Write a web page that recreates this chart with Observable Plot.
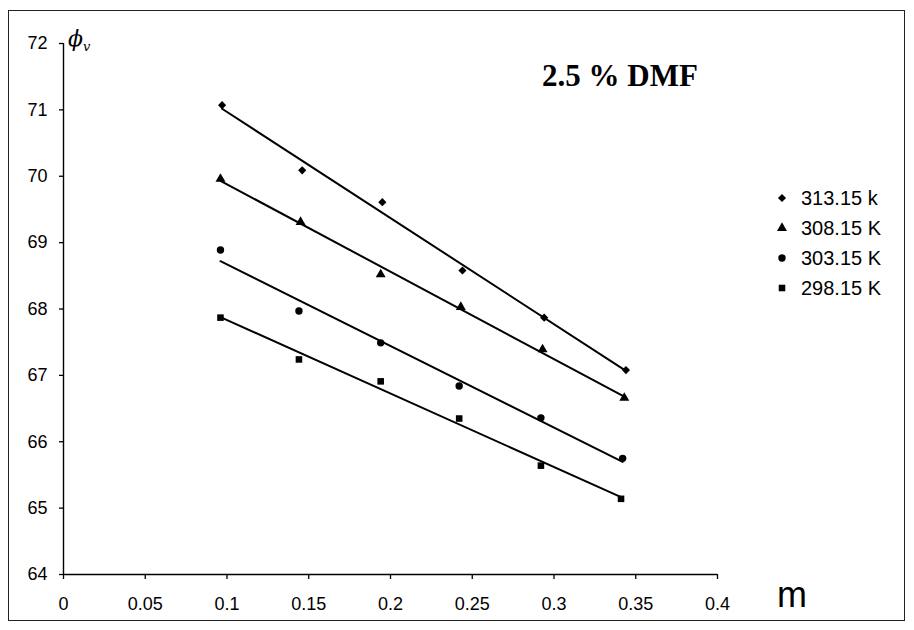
<!DOCTYPE html>
<html><head><meta charset="utf-8">
<script src="https://cdn.jsdelivr.net/npm/d3@7"></script>
<script src="https://cdn.jsdelivr.net/npm/@observablehq/plot@0.6"></script>
<style>
body{margin:0;background:#fff;}
#wrap{position:relative;width:914px;height:630px;font-family:"Liberation Sans",Arial,sans-serif;overflow:hidden;}
#frame{position:absolute;left:8px;top:10px;width:897px;height:611px;border:1.5px solid #222;box-sizing:border-box;pointer-events:none;}
#chart{position:absolute;left:0;top:0;}
.ann{position:absolute;white-space:nowrap;color:#000;}
#title{left:542px;top:58px;font-family:"Liberation Serif","Times New Roman",serif;font-weight:bold;font-size:31px;}
#mlab{left:777px;top:574px;font-size:36px;}
#phi{left:68px;top:26px;font-family:"DejaVu Serif",serif;font-style:italic;font-size:22px;}
#phi sub{font-size:13px;}
#legend{position:absolute;left:772px;top:183px;font-size:20px;}
.row{display:flex;align-items:center;height:30px;}
.row svg{width:20px;height:20px;margin-right:9px;}
</style></head><body>
<div id="wrap"><div id="chart"></div>
<div class="ann" id="title">2.5 % DMF</div>
<div class="ann" id="mlab">m</div>
<div class="ann" id="phi">ϕ<sub>v</sub></div>
<div id="legend"></div>
<div id="frame"></div>
</div>
<script>
const seriesNames = ["313.15 k", "308.15 K", "303.15 K", "298.15 K"];
const seriesSymbols = ["diamond2", "triangle", "circle", "square"];
const m313 = [0.097, 0.146, 0.195, 0.244, 0.294, 0.344];
const v313 = [71.07, 70.09, 69.61, 68.58, 67.87, 67.08];
const m308 = [0.096, 0.145, 0.194, 0.243, 0.293, 0.343];
const v308 = [69.96, 69.31, 68.52, 68.03, 67.39, 66.66];
const m303 = [0.096, 0.144, 0.194, 0.242, 0.292, 0.342];
const v303 = [68.89, 67.97, 67.49, 66.84, 66.36, 65.75];
const m298 = [0.096, 0.144, 0.194, 0.242, 0.292, 0.341];
const v298 = [67.87, 67.24, 66.91, 66.35, 65.64, 65.14];
const xTicks = [0, 0.05, 0.1, 0.15, 0.2, 0.25, 0.3, 0.35, 0.4];
const yTicks = [64, 65, 66, 67, 68, 69, 70, 71, 72];

const xs = [m313, m308, m303, m298];
const ys = [v313, v308, v303, v298];
const data = [];
seriesNames.forEach((s, i) => xs[i].forEach((x, j) => data.push({series: s, m: x, v: ys[i][j]})));

const R = 3.7;
const plot = Plot.plot({
  width: 914, height: 630,
  marginLeft: 63, marginRight: 197, marginTop: 43, marginBottom: 56,
  style: {fontSize: "18px", fontFamily: "'Liberation Sans', Arial, sans-serif", background: "transparent", color: "#000"},
  x: {domain: [0, 0.4]},
  y: {domain: [64, 72]},
  symbol: {domain: seriesNames, range: seriesSymbols},
  marks: [
    Plot.axisX({ticks: xTicks, tickFormat: d => String(d), tickSize: 5, tickPadding: 18, strokeWidth: 1.3, label: null}),
    Plot.axisY({ticks: yTicks, tickFormat: d => String(d), tickSize: 4, tickPadding: 12, strokeWidth: 1.3, label: null}),
    Plot.ruleX([0], {y1: 64, y2: 72, stroke: "#000", strokeWidth: 1.4}),
    Plot.ruleY([64], {x1: 0, x2: 0.4, stroke: "#000", strokeWidth: 1.4}),
    Plot.linearRegressionY(data, {x: "m", y: "v", z: "series", stroke: "#000", strokeWidth: 2, ci: 0}),
    Plot.dot(data, {x: "m", y: "v", symbol: "series", fill: "#000", r: R})
  ]
});
document.getElementById("chart").appendChild(plot);

const symMap = {diamond2: d3.symbolDiamond2, triangle: d3.symbolTriangle, circle: d3.symbolCircle, square: d3.symbolSquare};
const leg = document.getElementById("legend");
seriesNames.forEach((s, i) => {
  const row = document.createElement("div");
  row.className = "row";
  const path = d3.symbol().type(symMap[seriesSymbols[i]]).size(Math.PI * R * R)();
  row.innerHTML = `<svg viewBox="-10 -10 20 20"><path d="${path}" fill="#000"/></svg><span>${s}</span>`;
  leg.appendChild(row);
});
</script>
</body></html>
